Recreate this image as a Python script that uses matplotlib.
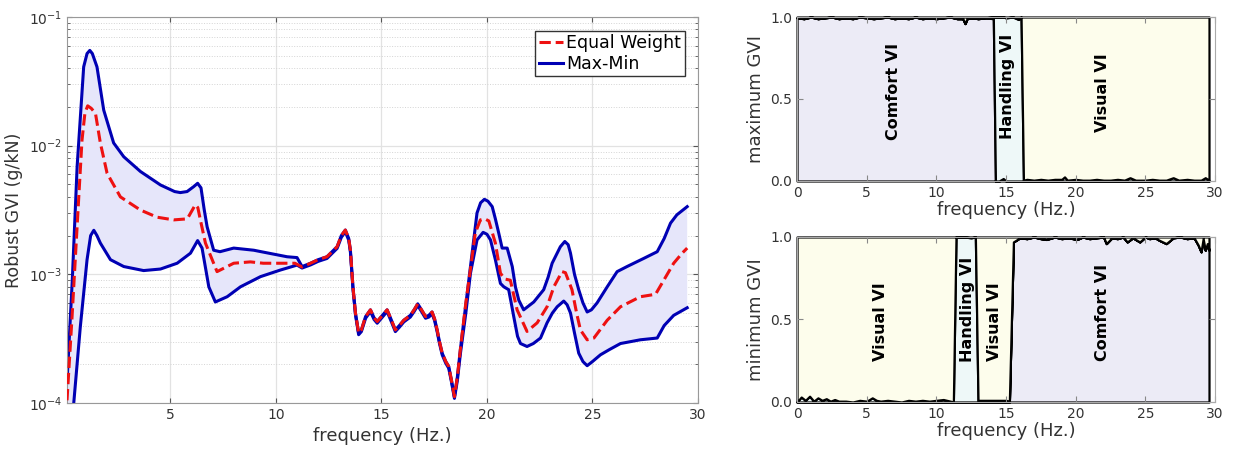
import numpy as np
import matplotlib
matplotlib.use("Agg")
import matplotlib.pyplot as plt
from matplotlib.ticker import LogLocator, FixedLocator, FormatStrFormatter

# ---------------- datos: panel izquierdo (GVI robusto) ----------------
# tramo comun (las tres curvas casi coinciden)
f_comun = [11.64, 12.0, 12.42, 12.9, 13.1, 13.29, 13.45, 13.53, 13.65, 13.77, 13.92,
           14.05, 14.25, 14.48, 14.65, 14.8, 15.0, 15.27, 15.45, 15.66, 15.85, 16.06,
           16.37, 16.55, 16.72, 16.9, 17.09, 17.25, 17.4, 17.52, 17.64, 17.75, 17.88,
           18.05, 18.19, 18.32, 18.46]
v_comun = [0.00122, 0.0013, 0.00137, 0.00164, 0.002, 0.00221, 0.0019, 0.00154, 0.0008,
           0.0005, 0.00035, 0.00037, 0.00047, 0.00053, 0.00046, 0.00043, 0.00047,
           0.00053, 0.00045, 0.00037, 0.0004, 0.00044, 0.00048, 0.00053, 0.00059,
           0.00053, 0.00047, 0.00048, 0.00051, 0.00045, 0.00037, 0.0003, 0.000244,
           0.00021, 0.000192, 0.00015, 0.000112]

# maximo
f_max_a = [0.1, 0.35, 0.58, 0.89, 1.05, 1.18, 1.3, 1.52, 1.84, 2.31, 2.79, 3.58, 4.53,
           5.2, 5.47, 5.79, 6.1, 6.29, 6.45, 6.6, 6.74, 7.05, 7.35, 8.0, 8.95, 9.3,
           10.53, 11.0, 11.24]
v_max_a = [0.000144, 0.0009, 0.0069, 0.041, 0.052, 0.055, 0.052, 0.041, 0.0189, 0.0105,
           0.0082, 0.0063, 0.00495, 0.0044, 0.00432, 0.0044, 0.0048, 0.0051, 0.0047,
           0.0032, 0.00234, 0.00154, 0.0015, 0.0016, 0.00154, 0.0015, 0.00137, 0.00135,
           0.00115]
f_max_b = [18.6, 18.74, 18.95, 19.22, 19.53, 19.7, 19.88, 20.05, 20.25, 20.4, 20.56,
           20.72, 20.96, 21.2, 21.35, 21.51, 21.74, 22.22, 22.69, 22.9, 23.09, 23.48,
           23.69, 23.85, 23.96, 24.15, 24.35, 24.55, 24.75, 24.95, 25.22, 25.7, 26.17,
           26.64, 27.43, 28.07, 28.4, 28.7, 29.0, 29.49]
v_max_b = [0.00016, 0.000259, 0.0005, 0.00115, 0.003, 0.0036, 0.00383, 0.0037, 0.00336,
           0.0027, 0.00209, 0.0016, 0.0016, 0.00115, 0.0008, 0.00063, 0.00053, 0.00061,
           0.00076, 0.00095, 0.00122, 0.00164, 0.0018, 0.0017, 0.00146, 0.001, 0.00076,
           0.0006, 0.00051, 0.00053, 0.0006, 0.0008, 0.00105, 0.00115, 0.00133, 0.0015,
           0.0019, 0.0025, 0.0029, 0.00336]

# minimo
f_min_a = [0.1, 0.42, 0.73, 1.05, 1.22, 1.37, 1.52, 1.68, 2.16, 2.79, 3.73, 4.53, 5.32,
           5.95, 6.29, 6.5, 6.82, 7.13, 7.69, 8.32, 9.27, 10.21, 11.0, 11.24]
v_min_a = [0.00002, 0.0001, 0.00039, 0.0013, 0.002, 0.0022, 0.002, 0.00175, 0.0013,
           0.00115, 0.00107, 0.0011, 0.00122, 0.00146, 0.00183, 0.0016, 0.0008, 0.00061,
           0.00067, 0.0008, 0.00096, 0.00108, 0.00118, 0.00112]
f_min_b = [18.6, 18.74, 19.0, 19.22, 19.53, 19.82, 20.0, 20.17, 20.4, 20.64, 20.8, 21.03,
           21.15, 21.27, 21.45, 21.59, 21.9, 22.2, 22.54, 22.85, 23.1, 23.33, 23.64, 23.8,
           23.96, 24.15, 24.35, 24.55, 24.75, 25.0, 25.38, 25.8, 26.33, 27.27, 28.07,
           28.4, 28.85, 29.49]
v_min_b = [0.00015, 0.00024, 0.0005, 0.00102, 0.00185, 0.00212, 0.00205, 0.00185, 0.0013,
           0.00085, 0.0008, 0.00076, 0.0006, 0.00047, 0.00033, 0.00029, 0.000275, 0.00029,
           0.00032, 0.00042, 0.0005, 0.00056, 0.00062, 0.00058, 0.0005, 0.00035, 0.000244,
           0.00021, 0.000195, 0.00021, 0.000237, 0.00026, 0.00029, 0.00031, 0.00032,
           0.0004, 0.00048, 0.00055]

# peso igual
f_eq_a = [0.1, 0.34, 0.65, 0.81, 0.95, 1.08, 1.25, 1.45, 1.68, 2.0, 2.63, 3.58, 4.37,
          5.16, 5.8, 6.18, 6.3, 6.42, 6.66, 7.21, 8.0, 8.79, 9.4, 10.1, 10.9, 11.24]
v_eq_a = [0.000105, 0.00047, 0.0038, 0.011, 0.018, 0.0204, 0.0195, 0.0178, 0.0105, 0.0061,
          0.004, 0.00316, 0.00278, 0.00265, 0.0027, 0.00347, 0.0033, 0.00265, 0.00175,
          0.00105, 0.00122, 0.00125, 0.00122, 0.00122, 0.00122, 0.00114]
f_eq_b = [18.6, 18.74, 19.0, 19.22, 19.45, 19.69, 19.9, 20.09, 20.4, 20.64, 20.85, 21.11,
          21.43, 21.9, 22.38, 22.85, 23.17, 23.56, 23.72, 24.03, 24.25, 24.43, 24.75,
          25.07, 25.7, 26.33, 27.27, 27.99, 28.38, 28.85, 29.25, 29.49]
v_eq_b = [0.00016, 0.00026, 0.0006, 0.0011, 0.0021, 0.00265, 0.0027, 0.0026, 0.00175,
          0.00102, 0.00092, 0.0009, 0.00053, 0.00036, 0.00042, 0.00056, 0.0008, 0.00105,
          0.00103, 0.00076, 0.0005, 0.00037, 0.00031, 0.00032, 0.00044, 0.00056, 0.00067,
          0.0007, 0.0009, 0.00122, 0.00146, 0.0016]

# ---------------- datos: paneles derechos (limites acumulados) ----------------
f_sup = [0, 0.5, 1, 1.5, 2, 2.5, 3, 3.5, 4, 4.5, 5, 5.5, 6, 6.5, 7, 7.5, 8, 8.5, 9, 9.5,
         10, 10.5, 11, 11.5, 11.9, 12.06, 12.2, 12.6, 13, 13.5, 14.09, 14.24, 14.5, 14.8,
         15.0, 15.5, 15.9, 16.08, 16.25, 16.5, 17, 17.5, 18, 18.5, 19, 19.2, 19.4, 20,
         20.5, 21, 21.5, 22, 22.5, 23, 23.5, 23.9, 24.3, 25, 25.5, 26, 26.5, 27, 27.4,
         28, 28.5, 29, 29.3, 29.57]
# tope de Comfort
conf_sup = [0.995, 0.99, 1.0, 0.99, 0.995, 1.0, 0.99, 0.995, 0.99, 1.0, 0.995, 0.99,
            0.995, 1.0, 0.99, 0.995, 0.99, 1.0, 0.99, 0.995, 0.99, 0.995, 1.0, 0.99,
            0.99, 0.96, 0.99, 0.995, 0.99, 0.995, 0.99, 0.0, 0.0, 0.015, 0.0, 0.0, 0.0,
            0.0, 0.0, 0.0, 0.0, 0.0, 0.0, 0.0, 0.0, 0.0, 0.0, 0.0, 0.0, 0.0, 0.0, 0.0,
            0.0, 0.0, 0.0, 0.0, 0.0, 0.0, 0.0, 0.0, 0.0, 0.0, 0.0, 0.0, 0.0, 0.0, 0.0, 0.0]
# tope de Comfort + Handling
hand_sup = [0.995, 0.99, 1.0, 0.99, 0.995, 1.0, 0.99, 0.995, 0.99, 1.0, 0.995, 0.99,
            0.995, 1.0, 0.99, 0.995, 0.99, 1.0, 0.99, 0.995, 0.99, 0.995, 1.0, 0.99,
            0.99, 0.96, 0.99, 0.995, 0.99, 0.995, 1.0, 1.0, 1.0, 1.0, 0.995, 1.0, 0.985,
            1.0, 0.005, 0.01, 0.005, 0.01, 0.005, 0.01, 0.01, 0.025, 0.005, 0.01, 0.005,
            0.005, 0.01, 0.005, 0.005, 0.01, 0.005, 0.02, 0.005, 0.005, 0.01, 0.005,
            0.005, 0.02, 0.005, 0.01, 0.005, 0.005, 0.02, 0.005]

f_inf = [0, 0.3, 0.6, 0.9, 1.2, 1.5, 1.8, 2.1, 2.4, 2.7, 3.0, 3.5, 4.0, 4.5, 5.0, 5.4,
         5.7, 6.0, 6.5, 7.0, 7.5, 8.0, 8.5, 9.0, 9.5, 10.0, 10.5, 11.0, 11.22, 11.41,
         12.0, 12.5, 12.8, 12.99, 13.5, 14.0, 14.5, 15.0, 15.24, 15.53, 16.0, 16.5, 17.0,
         17.5, 17.9, 18.5, 19.0, 19.5, 20.1, 20.5, 21.0, 21.5, 22.0, 22.2, 22.6, 23.0,
         23.4, 23.7, 24.1, 24.6, 25.0, 25.3, 25.7, 26.0, 26.5, 27.0, 27.5, 28.0, 28.5,
         28.8, 29.0, 29.15, 29.3, 29.45, 29.57]
conf_inf = [0.0] * 39 + [0.97, 0.995, 0.99, 1.0, 0.99, 0.985, 1.0, 0.99, 0.995, 0.985,
                         1.0, 0.99, 0.995, 1.0, 0.96, 0.995, 0.99, 1.0, 0.97, 0.995,
                         0.97, 1.0, 0.99, 0.995, 0.98, 0.96, 0.995, 1.0, 0.99, 0.995,
                         0.95, 0.91, 0.99, 0.92, 0.96, 0.92]
hand_inf = [0.0, 0.03, 0.01, 0.035, 0.005, 0.025, 0.01, 0.02, 0.005, 0.015, 0.005, 0.005,
            0.0, 0.01, 0.005, 0.025, 0.01, 0.005, 0.01, 0.005, 0.0, 0.01, 0.005, 0.01,
            0.005, 0.01, 0.015, 0.005, 0.0, 1.0, 1.0, 0.995, 1.0, 0.01, 0.01, 0.01, 0.01,
            0.01, 0.005] + conf_inf[39:]

etiq_sup = [("Comfort VI", 6.9, 0.545), ("Handling VI", 15.1, 0.575), ("Visual VI", 21.9, 0.54)]
etiq_inf = [("Visual VI", 6.0, 0.485), ("Handling VI", 12.2, 0.56),
            ("Visual VI", 14.2, 0.49), ("Comfort VI", 21.9, 0.54)]

c_comfort = "#ecebf6"
c_handling = "#eef8f8"
c_visual = "#fdfdec"
gris = "#333333"

fig = plt.figure(figsize=(12.34, 4.5), dpi=100)

# ---------------- panel izquierdo ----------------
ax = fig.add_axes([0.0543, 0.1044, 0.5113, 0.8578])
f_max = f_max_a + f_comun + f_max_b
v_max = v_max_a + v_comun + v_max_b
f_min = f_min_a + f_comun + f_min_b
v_min = v_min_a + [v * 0.97 for v in v_comun] + v_min_b
f_eq = f_eq_a + f_comun + f_eq_b
v_eq = v_eq_a + v_comun + v_eq_b

ax.fill(np.concatenate([f_max, f_min[::-1]]), np.concatenate([v_max, v_min[::-1]]),
        color="#e6e6fa", lw=0, zorder=1)
ax.plot(f_eq, v_eq, "--", color="#ee1111", lw=2.2, label="Equal Weight", zorder=3)
ax.plot(f_max, v_max, color="#0000b4", lw=2.2, label="Max-Min", zorder=2)
ax.plot(f_min, v_min, color="#0000b4", lw=2.2, zorder=2)
ax.set_yscale("log")
ax.set_xlim(0.1, 30)
ax.set_ylim(1e-4, 1e-1)
ax.xaxis.set_major_locator(FixedLocator([5, 10, 15, 20, 25, 30]))
ax.yaxis.set_minor_locator(LogLocator(base=10, subs=np.arange(2, 10)))
ax.grid(True, which="major", color="#e2e2e2", lw=0.9, ls="-", zorder=0)
ax.grid(True, which="minor", axis="y", color="#d4d4d4", lw=0.7, ls=":", zorder=0)
ax.set_axisbelow(True)
ax.tick_params(which="both", direction="in", top=True, right=True, colors="#555555",
               labelcolor=gris, labelsize=10)
for s in ax.spines.values():
    s.set_color("#999999")
ax.set_xlabel("frequency (Hz.)", fontsize=13, color=gris)
ax.set_ylabel("Robust GVI (g/kN)", fontsize=12.5, color=gris)
ax.legend(loc="upper right", bbox_to_anchor=(0.979, 0.965), borderaxespad=0,
          fancybox=False, edgecolor=gris, framealpha=1, fontsize=12.5,
          handlelength=1.4, handletextpad=0.2, borderpad=0.2, labelspacing=0.15)


# ---------------- paneles derechos ----------------
def panel(pos, f, b1, b2, etiquetas, ylabel):
    a = fig.add_axes(pos)
    kw = dict(edgecolor="black", lw=1.6, clip_on=False)
    a.fill_between(f, 0, b1, facecolor=c_comfort, **kw)
    a.fill_between(f, b1, b2, facecolor=c_handling, **kw)
    a.fill_between(f, b2, 1, facecolor=c_visual, **kw)
    # el relleno de cada zona segun la etiqueta
    for txt, x, y in etiquetas:
        a.text(x, y, txt, rotation=90, ha="center", va="center", fontsize=11.5,
               fontweight="bold", color="black")
    a.set_xlim(0, 30)
    a.set_ylim(0, 1)
    a.set_xticks([0, 5, 10, 15, 20, 25, 30])
    a.set_yticks([0, 0.5, 1.0])
    a.yaxis.set_major_formatter(FormatStrFormatter("%.1f"))
    a.tick_params(direction="in", top=True, right=True, colors="#888888",
                  labelcolor=gris, labelsize=10, length=4)
    for s in a.spines.values():
        s.set_color("#aaaaaa")
    a.set_xlabel("frequency (Hz.)", fontsize=13, color=gris, labelpad=1)
    a.set_ylabel(ylabel, fontsize=13, color=gris)
    return a


panel([0.6459, 0.5978, 0.3387, 0.3644], f_sup, conf_sup, hand_sup, etiq_sup, "maximum GVI")
panel([0.6459, 0.1067, 0.3387, 0.3667], f_inf, conf_inf, hand_inf, etiq_inf, "minimum GVI")

fig.savefig("out.png", dpi=100)
